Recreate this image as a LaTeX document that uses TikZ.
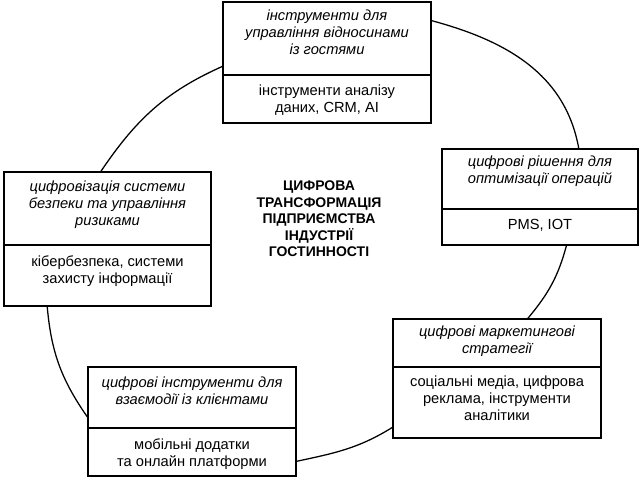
\documentclass[tikz,border=0pt]{standalone}
\usepackage{fontspec}
\setmainfont{Liberation Sans}
\usetikzlibrary{positioning, fit}
\tikzstyle{ring} = [draw, line width=0.95pt]

\begin{document}
\begin{tikzpicture}[x=0.75pt, y=0.75pt, font=\fontsize{11pt}{12.75pt}\selectfont,
  part/.style={draw, line width=1pt, outer sep=0pt, inner sep=0pt, minimum width=156pt},
  txt/.style={align=center, inner sep=0pt},
  ttl/.style={txt, font=\fontsize{11pt}{12.75pt}\selectfont\itshape},
  whole/.style={fit=#1, inner sep=0pt, outer sep=0pt}]

    \useasboundingbox (0,0) rectangle (640,480);

    % top
    \node[part, minimum height=54.75pt, anchor=north] (t1) at (327,478) {};
    \node[part, minimum height=36pt, below=0pt of t1] (d1) {};
    \node[ttl, below=6pt of t1.north] (t1x) {інструменти для\\управління відносинами\\із гостями};
    \node[txt, below=7.4pt of d1.north] (d1x) {інструменти аналізу\\даних, CRM, AI};
    \node[whole={(t1)(d1)}] (b1) {};

    % right
    \node[part, minimum width=147pt, minimum height=45pt, anchor=north] (t2) at (540,331) {};
    \node[part, minimum width=147pt, minimum height=27pt, below=0pt of t2] (d2) {};
    \node[ttl, below=5pt of t2.north] (t2x) {цифрові рішення для\\оптимізації операцій};
    \node[txt, below=7.8pt of d2.north] (d2x) {PMS, IOT};
    \node[whole={(t2)(d2)}] (b2) {};

    % left
    \node[part, minimum width=155.25pt, minimum height=54.75pt, anchor=north] (t3) at (107.5,308) {};
    \node[part, minimum width=155.25pt, minimum height=45.75pt, below=0pt of t3] (d3) {};
    \node[ttl, below=6.6pt of t3.north] (t3x) {цифровізація системи\\безпеки та управління\\ризиками};
    \node[txt, below=8pt of d3.north] (d3x) {кібербезпека, системи\\захисту інформації};
    \node[whole={(t3)(d3)}] (b3) {};

    % bottom right
    \node[part, minimum height=36pt, anchor=north] (t4) at (497,161) {};
    \node[part, minimum height=53.25pt, below=0pt of t4] (d4) {};
    \node[ttl, below=5pt of t4.north] (t4x) {цифрові маркетингові\\стратегії};
    \node[txt, below=6.6pt of d4.north] (d4x) {соціальні медіа, цифрова\\реклама, інструменти\\аналітики};
    \node[whole={(t4)(d4)}] (b4) {};

    % bottom left
    \node[part, minimum height=45.75pt, anchor=north] (t5) at (192,113) {};
    \node[part, minimum height=36pt, below=0pt of t5] (d5) {};
    \node[ttl, below=7.5pt of t5.north] (t5x) {цифрові інструменти для\\взаємодії із клієнтами};
    \node[txt, below=8pt of d5.north] (d5x) {мобільні додатки\\та онлайн платформи};
    \node[whole={(t5)(d5)}] (b5) {};

    \node[align=center, font=\fontsize{10.5pt}{12.4pt}\selectfont\bfseries] (ct) at (319,261)
      {ЦИФРОВА\\ТРАНСФОРМАЦІЯ\\ПІДПРИЄМСТВА\\ІНДУСТРІЇ\\ГОСТИННОСТІ};

    \draw[ring] (b1.22) to[out=-15, in=100] (b2.51);
    \draw[ring] (b2.-61) to[out=-105, in=50] (b4.63);
    \draw[ring] (b4.205) to[out=212, in=12] (b5.-21);
    \draw[ring] (b5.178) to[out=125, in=-85] (b3.228);
    \draw[ring] (b3.96) to[out=56, in=204] (b1.182);

\end{tikzpicture}
\end{document}
